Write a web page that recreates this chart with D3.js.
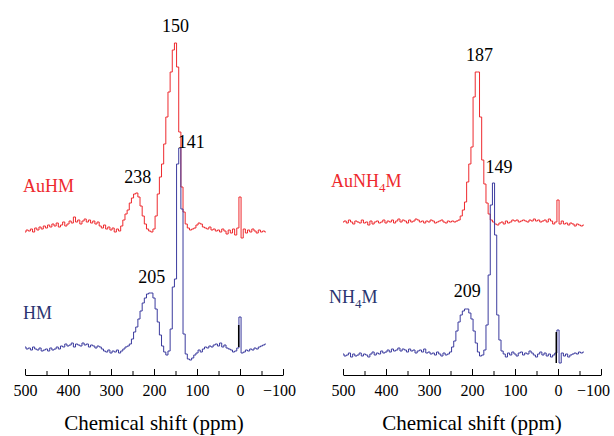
<!DOCTYPE html>
<html>
<head>
<meta charset="utf-8">
<script src="https://d3js.org/d3.v7.min.js"></script>
<style>
  body { margin: 0; background: #fff; }
  svg text { font-family: "Liberation Serif", "Times New Roman", serif; }
  .spec { fill: none; stroke-width: 1px; }
</style>
</head>
<body>
<script>
// chemical shift sampling grid, 500 -> -60 ppm (5 ppm step)
var ppm = d3.range(500, -61, -5);

// intensities (arbitrary units above each trace's own baseline)
var auHM = [
  0, 2, 1, 3, 0, 4, 2, 5, 3, 6,
  4, 7, 5, 8, 6, 9, 5, 7, 10, 6,
  8, 11, 9, 15, 10, 12, 8, 11, 13, 10,
  12, 9, 11, 8, 10, 6, 4, 7, 3, 5,
  2, 4, 0, 3, 1, 6, 12, 18, 22, 29,
  34, 38, 39, 35, 26, 16, 8, 3, 1, 0,
  3, 16, 38, 55, 68, 88, 115, 140, 160, 182,
  189, 165, 100, 45, 20, 8, 4, 2, 3, 4,
  7, 9, 8, 5, 4, 3, 5, 2, 3, 1,
  2, 0, 3, 1, -2, 2, -1, 3, -3, 4,
  35, -6, 3, -1, 2, 0, 3, 1, -1, 2,
  0, 1, 0
];
var hm = [
  2, 0, 1, -1, 2, 0, -1, 1, -2, -1,
  0, -2, 1, -1, 0, 2, 0, 3, 2, 5,
  3, 4, 6, 2, 5, 4, 3, 6, 4, 5,
  2, 4, 3, 1, 3, 2, 0, -2, -3, -1,
  -4, -2, -3, -1, -4, -2, 0, 2, 3, 5,
  10, 17, 22, 30, 38, 46, 51, 55, 56, 56,
  51, 40, 27, 14, 3, -3, -6, -2, 20, 62,
  70, 185, 201, 140, 15, -5, -10, -11, -9, -6,
  -4, -1, -3, 0, 2, 1, 3, 2, 4, 5,
  3, 6, 2, 4, 1, 0, -1, -3, -2, 1,
  32, -4, -3, -1, -2, 0, -1, 1, 0, 2,
  3, 4, 5
];
var auNH4M = [
  0, 1, -1, 2, 0, -2, 1, 0, -1, 2,
  -1, 0, -3, 1, -2, 0, 1, -1, 0, 2,
  -1, 1, 0, 2, -1, 1, 3, 0, 2, 1,
  -1, 2, 0, 1, 3, 2, 0, 1, -1, 1,
  0, 2, 1, -1, 0, 1, 2, 0, -1, 1,
  0, 1, 0, 1, 2, 6, 12, 20, 40, 58,
  75, 125, 150, 150, 105, 62, 38, 19, 8, 2,
  0, -2, -3, -1, 0, -2, 1, -1, 0, 2,
  1, 2, 0, 1, 2, 1, 0, 2, 1, 3,
  1, 2, 0, 1, 2, 0, 3, 1, -2, 0,
  22, -2, 1, -2, -1, -3, -1, -2, -4, -2,
  -3, -4, -3
];
var nh4m = [
  1, -1, 0, 2, -2, 1, -1, 0, 2, -1,
  1, 0, -2, 1, 3, 0, 2, 1, 4, 2,
  3, 5, 3, 6, 4, 5, 7, 4, 6, 5,
  3, 6, 4, 5, 2, 4, 5, 3, 6, 2,
  3, 1, 2, 0, 3, 1, -1, 2, 0, 1,
  3, 8, 14, 24, 33, 40, 44, 46, 46, 42,
  36, 24, 12, 3, -1, 0, 5, 30, 80, 150,
  172, 120, 40, 15, 4, 1, -2, 2, 0, 3,
  1, -1, 2, 3, 0, 2, 1, 4, 2, 0,
  -2, 1, 3, 0, 2, -1, 1, -2, 0, 2,
  25, -8, 2, -1, 1, -2, 0, 1, 2, 1,
  3, 2, 3
];
// small black reference marks near 0 ppm ([ppm, intensity])
var refHM = [[3, 2], [3, 24]];
var refNH4M = [[4, -8], [4, 23]];

var majorTicks = [500, 400, 300, 200, 100, 0, -100];
var minorTicks = [450, 350, 250, 150, 50, -50];
var tickLabels = ["500", "400", "300", "200", "100", "0", "\u2212100"];

var red = "#ee2a2e", blue = "#3b3b9e", navy = "#2a3570";
var serif = "'Liberation Serif', 'Times New Roman', serif";

var svg = d3.select("body").append("svg")
  .attr("width", 614).attr("height", 436);

var axisY = 375;
var y = d3.scaleLinear().domain([0, 350]).range([axisY, 25]);

var panels = [
  {
    range: [25, 283],
    lastShift: -4,
    traces: [{ data: auHM, off: 143, color: red }, { data: hm, off: 26, color: blue }],
    refs: [{ data: refHM, off: 26 }],
    names: [
      { parts: ["AuHM"], x: 23, y: 192, color: red },
      { parts: ["HM"], x: 23, y: 319, color: navy }
    ],
    peaks: [
      { v: 150, data: auHM, off: 143, dx: 0, gap: 11 },
      { v: 238, data: auHM, off: 143, dx: 0, gap: 10 },
      { v: 141, data: hm, off: 26, dx: 12, gap: 0 },
      { v: 205, data: hm, off: 26, dx: 0, gap: 10 }
    ]
  },
  {
    range: [343, 601],
    lastShift: -8,
    traces: [{ data: auNH4M, off: 153, color: red }, { data: nh4m, off: 20, color: blue }],
    refs: [{ data: refNH4M, off: 20 }],
    names: [
      { parts: ["AuNH", "4", "M"], x: 331, y: 187, color: red },
      { parts: ["NH", "4", "M"], x: 329, y: 303, color: navy }
    ],
    peaks: [
      { v: 187, data: auNH4M, off: 153, dx: 2, gap: 11 },
      { v: 149, data: nh4m, off: 20, dx: 5, gap: 10 },
      { v: 209, data: nh4m, off: 20, dx: -1, gap: 12 }
    ]
  }
];

function topNear(data, p) {
  var m = -Infinity;
  ppm.forEach(function(q, i) { if (Math.abs(q - p) <= 5) m = Math.max(m, data[i]); });
  return m;
}

panels.forEach(function(pn) {
  var x = d3.scaleLinear().domain([500, -100]).range(pn.range);
  var g = svg.append("g");

  // spectra
  pn.traces.forEach(function(t) {
    var line = d3.line()
      .x(function(d, i) { return x(ppm[i]); })
      .y(function(d) { return y(t.off + d); })
      .curve(d3.curveStep);
    g.append("path").datum(t.data)
      .attr("class", "spec")
      .attr("stroke", t.color)
      .attr("d", line);
  });

  pn.refs.forEach(function(r) {
    var line = d3.line()
      .x(function(d) { return x(d[0]); })
      .y(function(d) { return y(r.off + d[1]); });
    g.append("path").datum(r.data)
      .attr("fill", "none").attr("stroke", "#000").attr("stroke-width", 1.5)
      .attr("d", line);
  });

  // peak labels
  pn.peaks.forEach(function(p) {
    g.append("text")
      .attr("x", x(p.v) + p.dx)
      .attr("y", y(p.off + topNear(p.data, p.v)) - p.gap)
      .attr("text-anchor", "middle")
      .attr("font-family", serif)
      .attr("font-size", 18)
      .attr("fill", "#000")
      .text(p.v);
  });

  // sample names
  pn.names.forEach(function(n) {
    var t = g.append("text").attr("x", n.x).attr("y", n.y)
      .attr("font-family", serif)
      .attr("font-size", 18).attr("fill", n.color);
    n.parts.forEach(function(s, k) {
      var sub = k === 1;
      t.append("tspan")
        .attr("font-size", sub ? 13 : 18)
        .attr("dy", k === 0 ? 0 : (sub ? 5 : -5))
        .text(s);
    });
  });

  // axis: minor ticks first, then major with labels
  g.append("g")
    .attr("transform", "translate(0," + axisY + ")")
    .call(d3.axisBottom(x).tickValues(minorTicks).tickSizeInner(-4).tickSizeOuter(0).tickFormat(""))
    .call(function(a) { a.select(".domain").remove(); });

  var ax = g.append("g")
    .attr("transform", "translate(0," + axisY + ")")
    .call(d3.axisBottom(x).tickValues(majorTicks).tickSizeInner(-6).tickSizeOuter(0)
      .tickPadding(10)
      .tickFormat(function(d, i) { return tickLabels[i]; }));
  ax.attr("font-family", serif).attr("font-size", 16);
  ax.selectAll("text").attr("fill", "#000")
    .attr("dx", function(d) { return d === -100 ? pn.lastShift : 0; });
  ax.selectAll("line, path").attr("stroke", "#000");

  g.append("text")
    .attr("x", (pn.range[0] + pn.range[1]) / 2)
    .attr("y", 430)
    .attr("text-anchor", "middle")
    .attr("font-family", serif)
    .attr("font-size", 21)
    .text("Chemical shift (ppm)");
});
</script>
</body>
</html>
